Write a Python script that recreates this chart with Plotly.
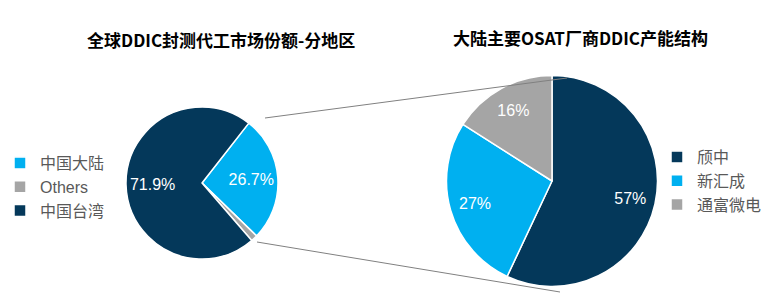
import plotly.graph_objects as go

# Left pie: global DDIC packaging/testing market share by region
region_labels = ["中国大陆", "Others", "中国台湾"]
region_values = [26.7, 1.4, 71.9]
region_colors = ["#00B0F0", "#A5A5A5", "#04385A"]

# Right pie: mainland OSAT DDIC capacity structure
osat_labels = ["颀中", "新汇成", "通富微电"]
osat_values = [57, 27, 16]
osat_colors = ["#04385A", "#00B0F0", "#A5A5A5"]

left_title = "全球DDIC封测代工市场份额-分地区"
right_title = "大陆主要OSAT厂商DDIC产能结构"

W, H = 776, 301
FONT = "Liberation Sans, Arial, Noto Sans CJK SC"
TFONT = "Noto Sans CJK SC, Liberation Sans"


def px(x):
    return x / W


def py(y):
    return 1 - y / H


left_dom = dict(x=[px(126), px(278)], y=[py(259), py(107)])
right_dom = dict(x=[px(446.5), px(657.5)], y=[py(286.5), py(75.5)])

fig = go.Figure()

# slices (no text)
fig.add_trace(go.Pie(
    labels=region_labels, values=region_values,
    textinfo="none",
    marker=dict(colors=region_colors, line=dict(color="white", width=1.5)),
    sort=False, direction="clockwise", rotation=38,
    domain=left_dom, legend="legend", hoverinfo="label+value",
))
fig.add_trace(go.Pie(
    labels=osat_labels, values=osat_values,
    textinfo="none",
    marker=dict(colors=osat_colors, line=dict(color="white", width=1.5)),
    sort=False, direction="clockwise", rotation=0,
    domain=right_dom, legend="legend2", hoverinfo="label+value",
))

# transparent ring overlays that carry the percentage labels
fig.add_trace(go.Pie(
    labels=region_labels, values=region_values,
    text=[f"{v}%" if v > 5 else "" for v in region_values],
    textinfo="text", textposition="inside", insidetextorientation="horizontal",
    textfont=dict(color="white", size=16, family=FONT),
    marker=dict(colors=["rgba(0,0,0,0)"] * 3, line=dict(width=0)),
    hole=0.3, sort=False, direction="clockwise", rotation=38,
    domain=left_dom, showlegend=False, hoverinfo="skip",
))
fig.add_trace(go.Pie(
    labels=osat_labels, values=osat_values,
    text=[f"{v}%" for v in osat_values],
    textinfo="text", textposition="inside", insidetextorientation="horizontal",
    textfont=dict(color="white", size=16, family=FONT),
    marker=dict(colors=["rgba(0,0,0,0)"] * 3, line=dict(width=0)),
    hole=0.52, sort=False, direction="clockwise", rotation=0,
    domain=right_dom, showlegend=False, hoverinfo="skip",
))

legend_common = dict(
    font=dict(size=16, color="#595959", family=FONT),
    bgcolor="rgba(0,0,0,0)",
    xanchor="left", yanchor="top",
    itemwidth=30,
    tracegroupgap=0,
)

fig.update_layout(
    width=W, height=H,
    margin=dict(l=0, r=0, t=0, b=0),
    paper_bgcolor="white",
    plot_bgcolor="white",
    showlegend=True,
    legend=dict(x=px(0), y=py(146), **legend_common),
    legend2=dict(x=px(657), y=py(140), **legend_common),
    annotations=[
        dict(text=f"<b>{left_title}</b>", x=px(221), y=py(40), xref="paper", yref="paper",
             showarrow=False, font=dict(size=17, color="black", family=TFONT),
             xanchor="center", yanchor="middle"),
        dict(text=f"<b>{right_title}</b>", x=px(580), y=py(37), xref="paper", yref="paper",
             showarrow=False, font=dict(size=17, color="black", family=TFONT),
             xanchor="center", yanchor="middle"),
    ],
    shapes=[
        dict(type="line", xref="paper", yref="paper",
             x0=px(265), y0=py(118), x1=px(567), y1=py(78),
             line=dict(color="#808080", width=1)),
        dict(type="line", xref="paper", yref="paper",
             x0=px(257), y0=py(242), x1=px(560), y1=py(292),
             line=dict(color="#808080", width=1)),
    ],
)

fig.write_html("out.html")
